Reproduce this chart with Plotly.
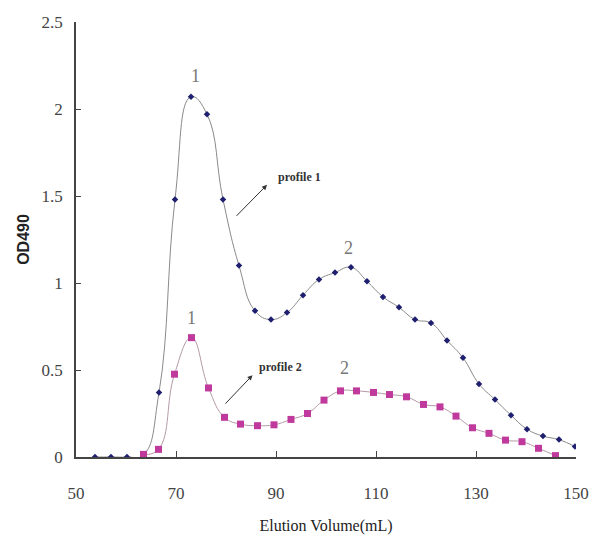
import plotly.graph_objects as go

# Profile 1 (navy diamonds)
vol1 = [53.8, 57.0, 60.2, 63.4, 66.6, 69.8, 73.0, 76.2, 79.4, 82.6, 85.8, 89.0, 92.2,
        95.4, 98.6, 101.8, 105.0, 108.2, 111.4, 114.6, 117.8, 121.0, 124.2, 127.4,
        130.6, 133.8, 137.0, 140.2, 143.4, 146.6, 149.8]
od1 = [0.0, 0.0, 0.0, 0.01, 0.37, 1.48, 2.07, 1.97, 1.48, 1.10, 0.84, 0.79, 0.83,
       0.93, 1.02, 1.06, 1.09, 1.01, 0.92, 0.86, 0.79, 0.77, 0.67, 0.57,
       0.42, 0.33, 0.24, 0.16, 0.12, 0.10, 0.06]

# Profile 2 (magenta squares)
vol2 = [63.5, 66.5, 69.7, 73.1, 76.5, 79.7, 82.9, 86.3, 89.6, 93.0, 96.3, 99.6, 102.9,
        106.1, 109.5, 112.7, 116.1, 119.5, 122.8, 126.0, 129.3, 132.6, 135.9, 139.2,
        142.5, 145.9]
od2 = [0.015, 0.044, 0.476, 0.686, 0.397, 0.228, 0.189, 0.180, 0.185, 0.216, 0.250,
       0.327, 0.380, 0.380, 0.371, 0.359, 0.346, 0.302, 0.288, 0.235, 0.168, 0.136,
       0.097, 0.088, 0.050, 0.008]

x_ticks = [50, 70, 90, 110, 130, 150]
y_ticks = [0, 0.5, 1, 1.5, 2, 2.5]
y_tick_labels = ["0", "0.5", "1", "1.5", "2", "2.5"]

SERIF = "Liberation Serif, Times New Roman, serif"

fig = go.Figure()
fig.add_trace(go.Scatter(
    x=vol1, y=od1, mode="lines+markers", name="profile 1",
    line=dict(color="#8a8a8a", width=1, shape="spline", smoothing=1.3),
    marker=dict(symbol="diamond", size=5, color="#1f1f70"),
))
fig.add_trace(go.Scatter(
    x=vol2, y=od2, mode="lines+markers", name="profile 2",
    line=dict(color="#b49aa8", width=1, shape="spline", smoothing=1.3),
    marker=dict(symbol="square", size=7, color="#c03a9e"),
))

peak_labels = [("1", 73.8, 2.19), ("2", 104.5, 1.2), ("1", 73.1, 0.80), ("2", 103.7, 0.51)]
for t, px, py in peak_labels:
    fig.add_annotation(x=px, y=py, text=t, showarrow=False,
                       font=dict(family=SERIF, size=18, color="#777777"))

fig.add_annotation(x=88.2, y=1.564, ax=81.8, ay=1.377, axref="x", ayref="y",
                   text="", showarrow=True, arrowhead=2, arrowsize=1, arrowwidth=1,
                   arrowcolor="#333333")
fig.add_annotation(x=85.3, y=0.47, ax=79.6, ay=0.298, axref="x", ayref="y",
                   text="", showarrow=True, arrowhead=2, arrowsize=1, arrowwidth=1,
                   arrowcolor="#333333")
fig.add_annotation(x=90.0, y=1.61, text="<b>profile 1</b>", showarrow=False,
                   xanchor="left", font=dict(family=SERIF, size=12, color="#333333"))
fig.add_annotation(x=86.2, y=0.52, text="<b>profile 2</b>", showarrow=False,
                   xanchor="left", font=dict(family=SERIF, size=12, color="#333333"))

fig.update_layout(
    width=590, height=543,
    margin=dict(l=76, r=14, t=22, b=86),
    paper_bgcolor="white", plot_bgcolor="white",
    showlegend=False,
)
fig.update_xaxes(
    range=[50, 150], tickvals=x_ticks, ticks="inside", ticklen=6, tickcolor="#444",
    showline=True, linecolor="#444", linewidth=1.5, showgrid=False, zeroline=False,
    tickfont=dict(family=SERIF, size=17, color="#444"), ticklabelstandoff=20,
    automargin=False,
    title=dict(text="Elution Volume(mL)", font=dict(family=SERIF, size=16, color="#222"),
               standoff=18),
)
fig.update_yaxes(
    range=[0, 2.5], tickvals=y_ticks, ticktext=y_tick_labels, ticks="inside", ticklen=5,
    tickcolor="#444", showline=True, linecolor="#444", linewidth=1.5, showgrid=False,
    zeroline=False, tickfont=dict(family=SERIF, size=17, color="#444"),
    ticklabelstandoff=8, automargin=False,
    title=dict(text="<b>OD490</b>", font=dict(family="Liberation Sans, Arial, sans-serif",
               size=16, color="#222"), standoff=8),
)

fig.write_html(
    "out.html",
    config={"displayModeBar": False},
    post_script="document.body.style.margin='0';document.body.style.overflow='hidden';",
)
